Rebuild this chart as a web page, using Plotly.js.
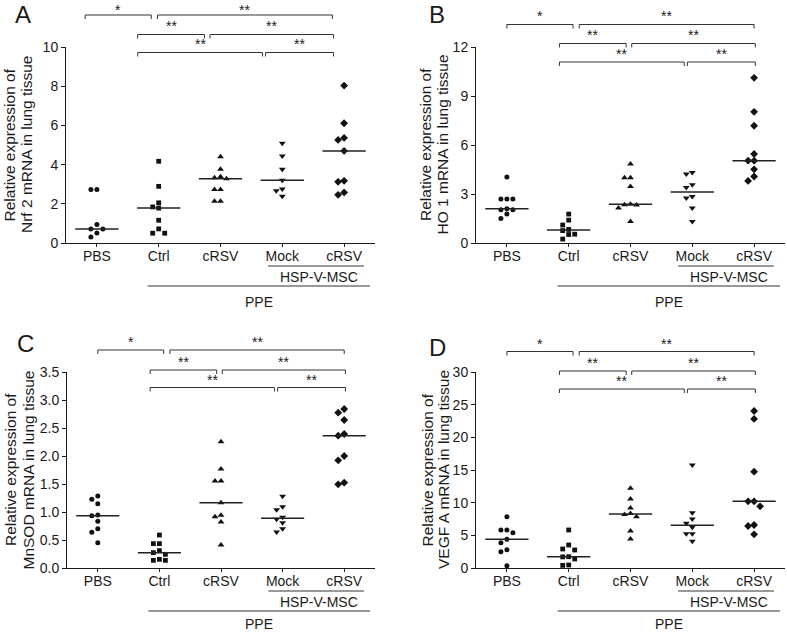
<!DOCTYPE html>
<html><head><meta charset="utf-8">
<script src="https://cdn.plot.ly/plotly-3.0.1.min.js"></script>
<style>html,body{margin:0;padding:0;background:#fff;} #chart{width:787px;height:633px;}</style>
</head><body><div id="chart"></div>
<script>
// ---------- data ----------
const groups = ['PBS', 'Ctrl', 'cRSV', 'Mock', 'cRSV'];
const groupSymbols = ['circle', 'square', 'triangle-up', 'triangle-down', 'diamond'];
const panelLetters = ['A', 'B', 'C', 'D'];
const titleLine1 = 'Relative expression of';
const genes = ['Nrf 2', 'HO 1', 'MnSOD', 'VEGF A'];
const yMax = [10, 12, 3.5, 30];
const yStep = [2, 3, 0.5, 5];
const subLabel = 'HSP-V-MSC';
const mainLabel = 'PPE';

// Panel A: Nrf 2
const nrf2_PBS  = [2.73, 2.73, 0.94, 0.72, 0.72, 0.51, 0.31];
const nrf2_Ctrl = [4.17, 2.89, 2.05, 1.84, 1.78, 1.16, 0.72, 0.50, 0.50];
const nrf2_cRSV = [4.40, 3.76, 3.38, 3.33, 3.28, 2.73, 2.73, 2.13, 2.13];
const nrf2_Mock = [5.09, 4.44, 3.76, 3.20, 2.76, 2.66, 2.39];
const nrf2_MSC  = [8.03, 6.11, 5.36, 5.26, 4.70, 3.17, 3.12, 2.58, 2.46];
// Panel B: HO 1
const ho1_PBS  = [4.04, 2.70, 2.70, 2.70, 2.09, 2.03, 2.03, 1.77, 1.50];
const ho1_Ctrl = [1.77, 1.40, 1.10, 0.83, 0.76, 0.54, 0.52, 0.24];
const ho1_cRSV = [4.84, 3.99, 3.99, 3.46, 2.38, 2.34, 2.32, 2.14, 1.32];
const ho1_Mock = [4.31, 4.23, 3.56, 3.40, 2.85, 2.75, 2.14, 1.32];
const ho1_MSC  = [10.11, 8.03, 7.18, 5.45, 5.04, 5.04, 4.51, 4.07, 3.80];
// Panel C: MnSOD
const mnsod_PBS  = [1.286, 1.226, 1.149, 0.946, 0.934, 0.833, 0.702, 0.637, 0.452];
const mnsod_Ctrl = [0.589, 0.435, 0.435, 0.31, 0.274, 0.244, 0.155, 0.137, 0.137];
const mnsod_cRSV = [2.256, 1.768, 1.554, 1.554, 1.167, 0.94, 0.917, 0.821, 0.411];
const mnsod_Mock = [1.28, 1.095, 1.042, 0.905, 0.869, 0.81, 0.702, 0.643];
const mnsod_MSC  = [2.839, 2.774, 2.643, 2.393, 2.363, 2.0, 1.923, 1.524, 1.494];
// Panel D: VEGF A
const vegf_PBS  = [7.86, 5.82, 5.82, 5.41, 4.39, 3.88, 2.81, 2.50, 0.36];
const vegf_Ctrl = [5.82, 3.52, 2.91, 2.76, 1.73, 1.70, 1.38, 0.46, 0.40];
const vegf_cRSV = [12.19, 10.56, 9.18, 8.35, 8.20, 7.86, 5.66, 4.44];
const vegf_Mock = [15.77, 8.47, 7.50, 6.84, 6.22, 5.26, 5.26, 4.08];
const vegf_MSC  = [24.03, 22.81, 14.75, 10.2, 10.2, 9.44, 6.58, 6.43, 5.15];

// comparisons: [group a, group b, label, row]
const comparisons = [[0,1,'*',0],[1,4,'**',0],[1,2,'**',1],[2,4,'**',1],[1,3,'**',2],[3,4,'**',2]];

const panelData = [
  [nrf2_PBS, nrf2_Ctrl, nrf2_cRSV, nrf2_Mock, nrf2_MSC],
  [ho1_PBS, ho1_Ctrl, ho1_cRSV, ho1_Mock, ho1_MSC],
  [mnsod_PBS, mnsod_Ctrl, mnsod_cRSV, mnsod_Mock, mnsod_MSC],
  [vegf_PBS, vegf_Ctrl, vegf_cRSV, vegf_Mock, vegf_MSC]
];

// ---------- style / layout ----------
const W = 787, H = 633;
const FONT = 'Arial, "Liberation Sans", sans-serif';
const INK = '#1a1a1a';
const boxes = [
  {x0: 66, x1: 375, yTop: 47, yBot: 243},
  {x0: 476, x1: 785, yTop: 47, yBot: 243},
  {x0: 67, x1: 375, yTop: 372, yBot: 568},
  {x0: 476, x1: 785, yTop: 372, yBot: 568}
];
const bracketInset = [[0,0.07],[0.17,0],[-0.15,-0.07],[0.02,0.02],[-0.15,-0.13],[-0.08,0.02]];
const bracketShift = [-0.19, 0, 0, 0];
const bracketRowsPx = [[32,12.5,-5.5],[22.5,3.5,-15],[22,2,-15.5],[20.5,1,-17]];
const titleOffsets = [[-56.5,-39],[-50,-33.5],[-57,-39.5],[-49.5,-33]];
const letterPos = [[22.5,10],[437,11],[25,343],[437,347]];
const markerSizes = [5, 4.8, 6, 6, 6];

function median(a){
  const s = a.slice().sort((p,q)=>p-q); const n = s.length;
  return n % 2 ? s[(n-1)/2] : (s[n/2-1] + s[n/2]) / 2;
}
function swarm(vals, pxY, pxX, step, d){
  const order = vals.map((v,i)=>i).sort((a,b)=>vals[b]-vals[a]);
  const placed = []; const off = new Array(vals.length).fill(0);
  for (const i of order){
    const yp = vals[i]*pxY;
    for (const k of [0,-1,1,-2,2,-3,3]){
      const xp = k*step;
      if (placed.every(p => Math.hypot(p.x-xp, p.y-yp) >= d)){
        off[i] = xp/pxX; placed.push({x:xp, y:yp}); break;
      }
    }
  }
  return off;
}

const traces = [], shapes = [], annotations = [];
const layout = {
  width: W, height: H, autosize: false,
  margin: {l:0, r:0, t:0, b:0},
  paper_bgcolor: '#fff', plot_bgcolor: 'rgba(0,0,0,0)',
  showlegend: false,
  font: {family: FONT, size: 14, color: INK}
};

panelData.forEach((groupsVals, p) => {
  const b = boxes[p];
  const sfx = p === 0 ? '' : String(p+1);
  const xa = 'x' + sfx, ya = 'y' + sfx;
  const plotH = b.yBot - b.yTop, plotW = b.x1 - b.x0;
  const pxY = plotH / yMax[p], pxX = plotW / 5;
  layout['xaxis' + sfx] = {
    domain: [b.x0/W, b.x1/W], anchor: ya, range: [-0.5, 4.5],
    showline: true, linecolor: INK, linewidth: 1, mirror: false,
    ticks: 'outside', ticklen: 3, tickwidth: 1, tickcolor: INK,
    ticklabelstandoff: -3,
    tickvals: [0,1,2,3,4], ticktext: groups,
    tickfont: {family: FONT, size: 14, color: INK},
    showgrid: false, zeroline: false, fixedrange: true
  };
  layout['yaxis' + sfx] = {
    domain: [1 - b.yBot/H, 1 - b.yTop/H], anchor: xa, range: [0, yMax[p]],
    dtick: yStep[p], tick0: 0, tickformat: p === 2 ? '.1f' : '',
    showline: true, linecolor: INK, linewidth: 1,
    ticks: 'outside', ticklen: 4, tickwidth: 1, tickcolor: INK,
    tickfont: {family: FONT, size: 14, color: INK},
    showgrid: false, zeroline: false, fixedrange: true
  };
  groupsVals.forEach((vals, g) => {
    const off = swarm(vals, pxY, pxX, 6, 5);
    traces.push({
      type: 'scatter', mode: 'markers', xaxis: xa, yaxis: ya,
      x: vals.map((v,i) => g + off[i]), y: vals, cliponaxis: false,
      marker: {symbol: groupSymbols[g], size: markerSizes[g], color: '#111', line: {width: 0}},
      hoverinfo: 'y'
    });
    const m = median(vals);
    traces.push({
      type: 'scatter', mode: 'lines', xaxis: xa, yaxis: ya,
      x: [g - 0.35, g + 0.35], y: [m, m], cliponaxis: false,
      line: {color: '#222', width: 1.5}, hoverinfo: 'skip'
    });
  });
  // significance brackets
  const dref = ya + ' domain';
  comparisons.forEach((c, k) => {
    const xl = c[0] + bracketInset[k][0] + bracketShift[p];
    const xr = c[1] + bracketInset[k][1] + bracketShift[p];
    const rowPx = bracketRowsPx[p][c[3]];
    const yb = 1 + rowPx / plotH;
    const yt = 1 + (rowPx - 4) / plotH;
    shapes.push({type: 'path', xref: xa, yref: dref,
      path: `M ${xl},${yt} L ${xl},${yb} L ${xr},${yb} L ${xr},${yt}`,
      line: {color: '#333', width: 1}});
    const pageY = b.yTop - rowPx;
    const shift = pageY < 18 ? -(18 - pageY) : 0;
    annotations.push({xref: xa, yref: dref, x: (xl+xr)/2, y: yb, yanchor: 'bottom', xanchor: 'center',
      text: c[2], showarrow: false, borderpad: 0, font: {family: FONT, size: 14, color: INK}, yshift: -1 + shift});
  });
  // group lines under axis
  const subY = -23 / plotH, mainY = -43 / plotH;
  shapes.push({type: 'line', xref: xa, yref: dref, x0: 2.77, x1: 4.32, y0: subY, y1: subY, line: {color: '#333', width: 1}});
  shapes.push({type: 'line', xref: xa, yref: dref, x0: 0.82, x1: 4.42, y0: mainY, y1: mainY, line: {color: '#333', width: 1}});
  annotations.push({xref: xa, yref: dref, x: (2.77+4.32)/2 + 0.05, y: -33.5/plotH, xanchor: 'center', yanchor: 'middle',
    text: subLabel, showarrow: false, borderpad: 0, font: {family: FONT, size: 14, color: INK}});
  const mainOff = Math.min(59, H - b.yBot - 9.5);
  annotations.push({xref: xa, yref: dref, x: (0.82+4.42)/2, y: -mainOff/plotH, xanchor: 'center', yanchor: 'middle',
    text: mainLabel, showarrow: false, borderpad: 0, font: {family: FONT, size: 14, color: INK}});
  // y titles (two lines)
  const yc = 1 - ((b.yTop + b.yBot)/2) / H;
  [titleLine1, genes[p] + ' mRNA in lung tissue'].forEach((t, li) => {
    annotations.push({xref: 'paper', yref: 'paper', x: (b.x0 + titleOffsets[p][li]) / W, y: yc,
      xanchor: 'center', yanchor: 'middle', textangle: -90, text: t, showarrow: false,
      borderpad: 0, font: {family: FONT, size: 15.5, color: INK}});
  });
  // panel letter
  const lp = letterPos[p];
  if (lp[1] < 16) {
    annotations.push({xref: 'paper', yref: 'paper', x: lp[0]/W, y: 1,
      xanchor: 'center', yanchor: 'top', text: panelLetters[p], showarrow: false, borderpad: 0,
      font: {family: FONT, size: 24, color: INK}});
  } else {
    annotations.push({xref: 'paper', yref: 'paper', x: lp[0]/W, y: 1 - lp[1]/H,
      xanchor: 'center', yanchor: 'middle', text: panelLetters[p], showarrow: false, borderpad: 0,
      font: {family: FONT, size: 24, color: INK}});
  }
});

layout.shapes = shapes;
layout.annotations = annotations;
Plotly.newPlot('chart', traces, layout, {staticPlot: true, displayModeBar: false});
</script>
</body></html>
